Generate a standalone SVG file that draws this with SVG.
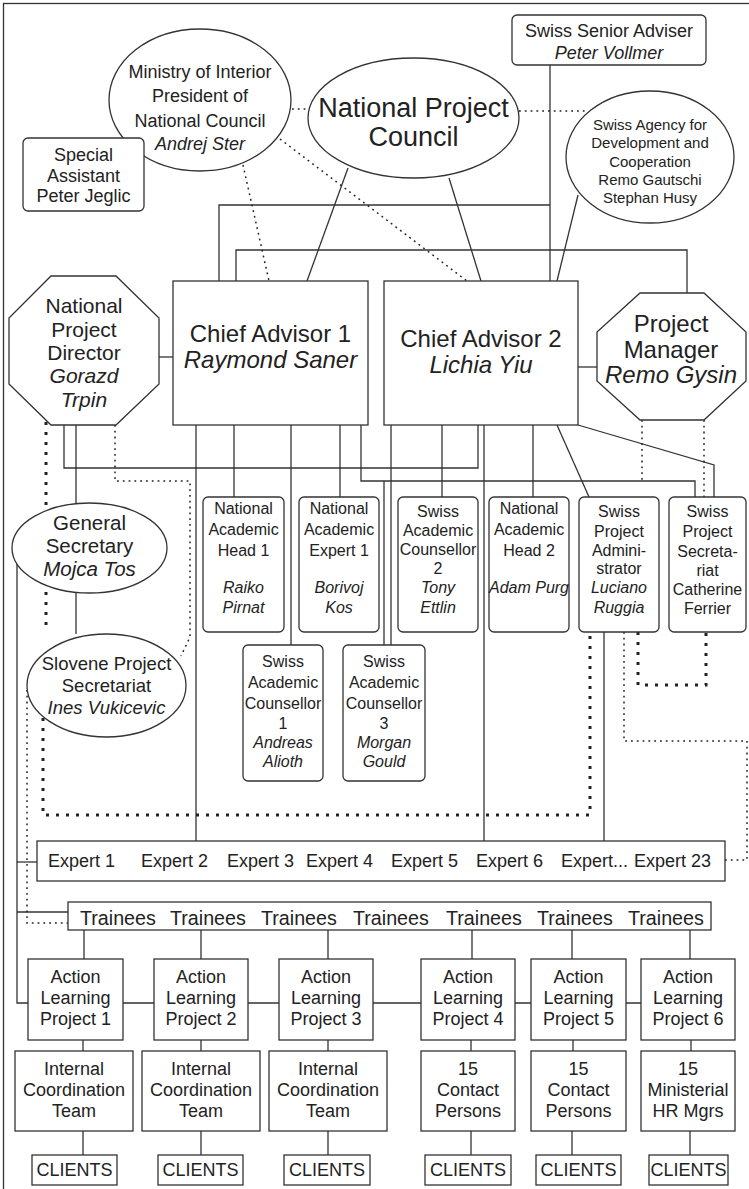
<svg xmlns="http://www.w3.org/2000/svg" width="749" height="1189" viewBox="0 0 749 1189">
<style>
text{font-family:"Liberation Sans",Arial,sans-serif;fill:#222;text-anchor:middle}
.i{font-style:italic}
.st{text-anchor:start}
.n{fill:#fff;stroke:#333;stroke-width:1.3}
.c path{fill:none;stroke:#333;stroke-width:1.3}
.c path.d{stroke:#222;stroke-width:1.5;stroke-dasharray:1.8 4}
.c path.h{stroke:#222;stroke-width:3;stroke-dasharray:3 7}
.f16{font-size:16px}.f18{font-size:18px}
</style>
<rect x="3.5" y="3.5" width="760" height="1200" fill="#fff" stroke="#333" stroke-width="1.3"/>
<g class="c" id="connectors">
<path d="M550,65V281"/>
<path d="M219,281V205H550"/>
<path d="M236,281V250H687V293"/>
<path d="M348,168L307,281"/>
<path d="M449,178L481,281"/>
<path d="M578,195L557,281"/>
<path d="M159,357H173"/>
<path d="M578,367H597"/>
<path d="M64,425V468H478V425"/>
<path d="M76,425V503"/>
<path d="M76,593V634"/>
<path d="M196,425V841"/>
<path d="M234,425V497"/>
<path d="M291,425V645"/>
<path d="M340,425V497"/>
<path d="M361,425V481H695V497"/>
<path d="M384,481V645"/>
<path d="M391,425V645"/>
<path d="M442,425V497"/>
<path d="M484,425V841"/>
<path d="M533,425V497"/>
<path d="M557,425L589,497"/>
<path d="M578,425L714,465V497"/>
<path d="M604,632V841"/>
<path d="M17,548V1003H28"/>
<path d="M17,862H37"/>
<path d="M17,912H68"/>
<path d="M84,930V959M201,930V959M328,930V959M472,930V959M572,930V959M690,930V959"/>
<path d="M123,1003H154M248,1003H279M373,1003H421M515,1003H531M626,1003H641"/>
<path d="M83,1040V1051M201,1040V1051M328,1040V1051M471,1040V1051M573,1040V1051M691,1040V1051"/>
<path d="M83,1131V1155M201,1131V1155M328,1131V1155M471,1131V1155M572,1131V1155M690,1131V1155"/>
<path class="d" d="M292,109H308"/>
<path class="d" d="M519,111H587"/>
<path class="d" d="M243,165L269,281"/>
<path class="d" d="M280,139L467,281"/>
<path class="d" d="M115,425V481H190V637L181,656"/>
<path class="d" d="M642,420V481"/>
<path class="d" d="M704,420V497"/>
<path class="d" d="M27,690V923H68"/>
<path class="d" d="M624,632V741H747V860H725"/>
<path class="h" d="M46,422V625"/>
<path class="h" d="M43,718V815H590V632"/>
<path class="h" d="M638,632V685H706V632"/>
</g>
<g id="ministry"><ellipse class="n" cx="200" cy="100" rx="91" ry="71"/>
<text class="f18" x="200" y="78">Ministry of Interior</text><text class="f18" x="200" y="102">President of</text><text class="f18" x="200" y="127">National Council</text><text class="f18 i" x="200" y="150">Andrej Ster</text></g>
<g id="npc"><ellipse class="n" cx="413.5" cy="118" rx="105.5" ry="60"/>
<text x="413.5" y="117" style="font-size:27px">National Project</text><text x="413.5" y="146" style="font-size:27px">Council</text></g>
<g id="sdc"><ellipse class="n" cx="650" cy="157" rx="84" ry="66"/>
<text x="650" y="130" style="font-size:15px">Swiss Agency for</text><text x="650" y="148" style="font-size:15px">Development and</text><text x="650" y="167" style="font-size:15px">Cooperation</text><text x="650" y="185" style="font-size:15px">Remo Gautschi</text><text x="650" y="203" style="font-size:15px">Stephan Husy</text></g>
<g id="ssa"><rect class="n" x="512" y="15" width="194" height="50" rx="5"/>
<text class="f18" x="609" y="37">Swiss Senior Adviser</text><text class="f18 i" x="609" y="59">Peter Vollmer</text></g>
<g id="special"><rect class="n" x="23" y="138" width="121" height="73" rx="5"/>
<text class="f18" x="83.5" y="161">Special</text><text class="f18" x="83.5" y="182">Assistant</text><text class="f18" x="83.5" y="202">Peter Jeglic</text></g>
<g id="ca1"><rect class="n" x="173" y="281" width="195" height="144"/>
<text x="270.5" y="342" style="font-size:24px">Chief Advisor 1</text><text class="i" x="270.5" y="368" style="font-size:24px">Raymond Saner</text></g>
<g id="ca2"><rect class="n" x="384" y="281" width="194" height="144"/>
<text x="481" y="347" style="font-size:24px">Chief Advisor 2</text><text class="i" x="481" y="373" style="font-size:24px">Lichia Yiu</text></g>
<g id="npd"><polygon class="n" points="51,276 116,276 159,318 159,384 116,425 51,425 9,384 9,318"/>
<text x="84" y="313" style="font-size:21px">National</text><text x="84" y="337" style="font-size:21px">Project</text><text x="84" y="360" style="font-size:21px">Director</text><text class="i" x="84" y="383" style="font-size:21px">Gorazd</text><text class="i" x="84" y="407" style="font-size:21px">Trpin</text></g>
<g id="pm"><polygon class="n" points="640,293 704,293 746,332 746,381 704,420 640,420 597,381 597,332"/>
<text x="671" y="332" style="font-size:24px">Project</text><text x="671" y="358" style="font-size:24px">Manager</text><text class="i" x="671" y="383" style="font-size:24px">Remo Gysin</text></g>
<g id="nah1"><rect class="n" x="203" y="497" width="81" height="135" rx="5"/>
<text class="f16" x="243.5" y="514">National</text><text class="f16" x="243.5" y="535">Academic</text><text class="f16" x="243.5" y="556">Head 1</text><text class="f16 i" x="243.5" y="593">Raiko</text><text class="f16 i" x="243.5" y="613">Pirnat</text></g>
<g id="nae1"><rect class="n" x="299" y="497" width="80" height="135" rx="5"/>
<text class="f16" x="339" y="514">National</text><text class="f16" x="339" y="535">Academic</text><text class="f16" x="339" y="556">Expert 1</text><text class="f16 i" x="339" y="593">Borivoj</text><text class="f16 i" x="339" y="613">Kos</text></g>
<g id="sac2"><rect class="n" x="398" y="497" width="80" height="135" rx="5"/>
<text class="f16" x="438" y="517">Swiss</text><text class="f16" x="438" y="536">Academic</text><text class="f16" x="438" y="555">Counsellor</text><text class="f16" x="438" y="574">2</text><text class="f16 i" x="438" y="593">Tony</text><text class="f16 i" x="438" y="613">Ettlin</text></g>
<g id="nah2"><rect class="n" x="489" y="497" width="80" height="135" rx="5"/>
<text class="f16" x="529" y="514">National</text><text class="f16" x="529" y="535">Academic</text><text class="f16" x="529" y="556">Head 2</text><text class="f16 i" x="529" y="593">Adam Purg</text></g>
<g id="spa"><rect class="n" x="579" y="497" width="80" height="135" rx="5"/>
<text class="f16" x="619" y="517">Swiss</text><text class="f16" x="619" y="537">Project</text><text class="f16" x="619" y="556">Admini-</text><text class="f16" x="619" y="574">strator</text><text class="f16 i" x="619" y="593">Luciano</text><text class="f16 i" x="619" y="613">Ruggia</text></g>
<g id="sps"><rect class="n" x="669" y="497" width="77" height="135" rx="5"/>
<text class="f16" x="707.5" y="517">Swiss</text><text class="f16" x="707.5" y="537">Project</text><text class="f16" x="707.5" y="557">Secreta-</text><text class="f16" x="707.5" y="576">riat</text><text class="f16" x="707.5" y="595">Catherine</text><text class="f16" x="707.5" y="614">Ferrier</text></g>
<g id="sac1"><rect class="n" x="243" y="645" width="80" height="136" rx="5"/>
<text class="f16" x="283" y="667">Swiss</text><text class="f16" x="283" y="688">Academic</text><text class="f16" x="283" y="709">Counsellor</text><text class="f16" x="283" y="729">1</text><text class="f16 i" x="283" y="748">Andreas</text><text class="f16 i" x="283" y="767">Alioth</text></g>
<g id="sac3"><rect class="n" x="343" y="645" width="82" height="136" rx="5"/>
<text class="f16" x="384" y="667">Swiss</text><text class="f16" x="384" y="688">Academic</text><text class="f16" x="384" y="709">Counsellor</text><text class="f16" x="384" y="729">3</text><text class="f16 i" x="384" y="748">Morgan</text><text class="f16 i" x="384" y="767">Gould</text></g>
<g id="gs"><ellipse class="n" cx="89.5" cy="548" rx="77.5" ry="45"/>
<text x="89.5" y="530" style="font-size:20.5px">General</text><text x="89.5" y="553" style="font-size:20.5px">Secretary</text><text class="i" x="89.5" y="576" style="font-size:20.5px">Mojca Tos</text></g>
<g id="slovene"><ellipse class="n" cx="106.5" cy="685.5" rx="79.5" ry="51.5"/>
<text x="106.5" y="670" style="font-size:18.5px">Slovene Project</text><text x="106.5" y="692" style="font-size:18.5px">Secretariat</text><text class="i" x="106.5" y="714" style="font-size:18.5px">Ines Vukicevic</text></g>
<g id="experts"><rect class="n" x="37" y="841" width="688" height="40"/>
<text class="f18 st" x="48" y="867">Expert 1</text><text class="f18 st" x="141" y="867">Expert 2</text><text class="f18 st" x="227" y="867">Expert 3</text><text class="f18 st" x="306" y="867">Expert 4</text><text class="f18 st" x="391" y="867">Expert 5</text><text class="f18 st" x="476" y="867">Expert 6</text><text class="f18 st" x="561" y="867">Expert...</text><text class="f18 st" x="634" y="867">Expert 23</text></g>
<g id="trainees"><rect class="n" x="68" y="902" width="643" height="28"/>
<text class="st" x="80" y="925" style="font-size:19.7px">Trainees</text><text class="st" x="170" y="925" style="font-size:19.7px">Trainees</text><text class="st" x="261" y="925" style="font-size:19.7px">Trainees</text><text class="st" x="353" y="925" style="font-size:19.7px">Trainees</text><text class="st" x="446" y="925" style="font-size:19.7px">Trainees</text><text class="st" x="537" y="925" style="font-size:19.7px">Trainees</text><text class="st" x="628" y="925" style="font-size:19.7px">Trainees</text></g>
<g id="alp1"><rect class="n" x="28" y="959" width="95" height="81"/><text class="f18" x="75.5" y="983">Action</text><text class="f18" x="75.5" y="1004">Learning</text><text class="f18" x="75.5" y="1025">Project 1</text></g>
<g id="alp2"><rect class="n" x="154" y="959" width="94" height="81"/><text class="f18" x="201" y="983">Action</text><text class="f18" x="201" y="1004">Learning</text><text class="f18" x="201" y="1025">Project 2</text></g>
<g id="alp3"><rect class="n" x="279" y="959" width="94" height="81"/><text class="f18" x="326" y="983">Action</text><text class="f18" x="326" y="1004">Learning</text><text class="f18" x="326" y="1025">Project 3</text></g>
<g id="alp4"><rect class="n" x="421" y="959" width="94" height="81"/><text class="f18" x="468" y="983">Action</text><text class="f18" x="468" y="1004">Learning</text><text class="f18" x="468" y="1025">Project 4</text></g>
<g id="alp5"><rect class="n" x="531" y="959" width="95" height="81"/><text class="f18" x="578.5" y="983">Action</text><text class="f18" x="578.5" y="1004">Learning</text><text class="f18" x="578.5" y="1025">Project 5</text></g>
<g id="alp6"><rect class="n" x="641" y="959" width="94" height="81"/><text class="f18" x="688" y="983">Action</text><text class="f18" x="688" y="1004">Learning</text><text class="f18" x="688" y="1025">Project 6</text></g>
<g id="ict1"><rect class="n" x="15" y="1051" width="118" height="80"/><text class="f18" x="74" y="1075">Internal</text><text class="f18" x="74" y="1096">Coordination</text><text class="f18" x="74" y="1117">Team</text></g>
<g id="ict2"><rect class="n" x="142" y="1051" width="118" height="80"/><text class="f18" x="201" y="1075">Internal</text><text class="f18" x="201" y="1096">Coordination</text><text class="f18" x="201" y="1117">Team</text></g>
<g id="ict3"><rect class="n" x="269" y="1051" width="118" height="80"/><text class="f18" x="328" y="1075">Internal</text><text class="f18" x="328" y="1096">Coordination</text><text class="f18" x="328" y="1117">Team</text></g>
<g id="cp4"><rect class="n" x="421" y="1051" width="94" height="80"/><text class="f18" x="468" y="1075">15</text><text class="f18" x="468" y="1096">Contact</text><text class="f18" x="468" y="1117">Persons</text></g>
<g id="cp5"><rect class="n" x="531" y="1051" width="95" height="80"/><text class="f18" x="578.5" y="1075">15</text><text class="f18" x="578.5" y="1096">Contact</text><text class="f18" x="578.5" y="1117">Persons</text></g>
<g id="hr6"><rect class="n" x="641" y="1051" width="94" height="80"/><text class="f18" x="688" y="1075">15</text><text class="f18" x="688" y="1096">Ministerial</text><text class="f18" x="688" y="1117">HR Mgrs</text></g>
<g id="clients1"><rect class="n" x="32" y="1155" width="85" height="30"/><text class="f18" x="74.5" y="1176">CLIENTS</text></g>
<g id="clients2"><rect class="n" x="158" y="1155" width="85" height="30"/><text class="f18" x="200.5" y="1176">CLIENTS</text></g>
<g id="clients3"><rect class="n" x="284" y="1155" width="86" height="30"/><text class="f18" x="327" y="1176">CLIENTS</text></g>
<g id="clients4"><rect class="n" x="425" y="1155" width="86" height="30"/><text class="f18" x="468" y="1176">CLIENTS</text></g>
<g id="clients5"><rect class="n" x="536" y="1155" width="85" height="30"/><text class="f18" x="578.5" y="1176">CLIENTS</text></g>
<g id="clients6"><rect class="n" x="649" y="1155" width="79" height="30"/><text class="f18" x="688.5" y="1176">CLIENTS</text></g>
</svg>
